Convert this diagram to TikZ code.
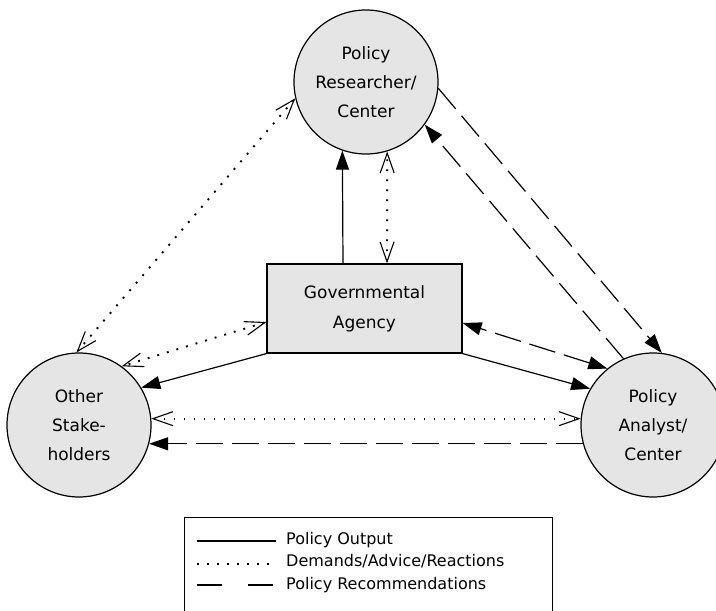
\documentclass[tikz,border=0pt]{standalone}
\usepackage{fontspec}
\setmainfont{DejaVu Sans}
\usetikzlibrary{arrows.meta}
\begin{document}
\begin{tikzpicture}[x=1pt,y=1pt,
  circ/.style={circle,draw,line width=1.2pt,fill=black!10,minimum size=144pt,inner sep=0pt,align=center,font=\fontsize{17}{29}\selectfont},
  agency/.style={rectangle,draw,line width=1.2pt,fill=black!10,minimum width=195pt,minimum height=89pt,inner sep=0pt,align=center,font=\fontsize{17}{30}\selectfont},
  conn/.style={line width=1.2pt},
  output/.style={conn,-{Triangle[length=19pt,width=13pt]}},
  dots/.style={line width=1.9pt,dash pattern=on 1.9pt off 8.1pt},
  demand/.style={dots,{Straight Barb[length=20pt,width=14pt,line width=1.1pt]}-{Straight Barb[length=20pt,width=14pt,line width=1.1pt]}},
  dashes/.style={conn,dash pattern=on 27pt off 9pt},
  recom/.style={dashes,-{Triangle[length=19pt,width=13pt]}},
  recomtwo/.style={dashes,{Triangle[length=19pt,width=13pt]}-{Triangle[length=19pt,width=13pt]}},
  legtext/.style={anchor=base west,inner sep=0pt,font=\fontsize{16}{20}\selectfont}
]
\clip (0,0) rectangle (716,611);
\fill[white] (0,0) rectangle (716,611);

\node[circ] (res) at (366,529) {Policy\\Researcher/\\Center};
\node[circ] (oth) at (79,186) {Other\\Stake-\\holders};
\node[circ] (ana) at (653,186) {Policy\\Analyst/\\Center};
\node[agency] (gov) at (364.5,302.5) {Governmental\\Agency};

\draw[output] ([xshift=-21.5pt]gov.north) -- (res.251);
\draw[demand] ([xshift=22.5pt]gov.north) -- (res.287);
\draw[demand] (res.193) -- (oth.92);
\draw[demand] ([yshift=-13.5pt]gov.west) -- (oth.54);
\draw[output] (gov.south west) -- (oth.31);
\draw[output] (gov.south east) -- (ana.150);
\draw[recomtwo] (ana.129) -- ([yshift=-14.5pt]gov.east);
\draw[recom] (res.-5) -- (ana.83);
\draw[recom] (ana.114) -- (res.-36);
\draw[demand] (oth.5) -- (ana.175);
\draw[recom] (ana.195) -- (oth.-15);

\node[draw,line width=1.2pt,minimum width=368pt,minimum height=110pt,anchor=north west,inner sep=0pt] (legend) at (184,94) {};
\coordinate (l1a) at (197,70); \coordinate (l1b) at (276,70);
\coordinate (l2a) at (197,47); \coordinate (l2b) at (276,47);
\coordinate (l3a) at (197,26); \coordinate (l3b) at (276,26);
\draw[conn] (l1a) -- (l1b);
\draw[dots] (l2a) -- (l2b);
\draw[conn,dash pattern=on 25pt off 26pt] (l3a) -- (l3b);
\node[legtext] (t1) at (286,66) {Policy Output};
\node[legtext] (t2) at (286,44) {Demands/Advice/Reactions};
\node[legtext] (t3) at (286,21) {Policy Recommendations};
\end{tikzpicture}
\end{document}
